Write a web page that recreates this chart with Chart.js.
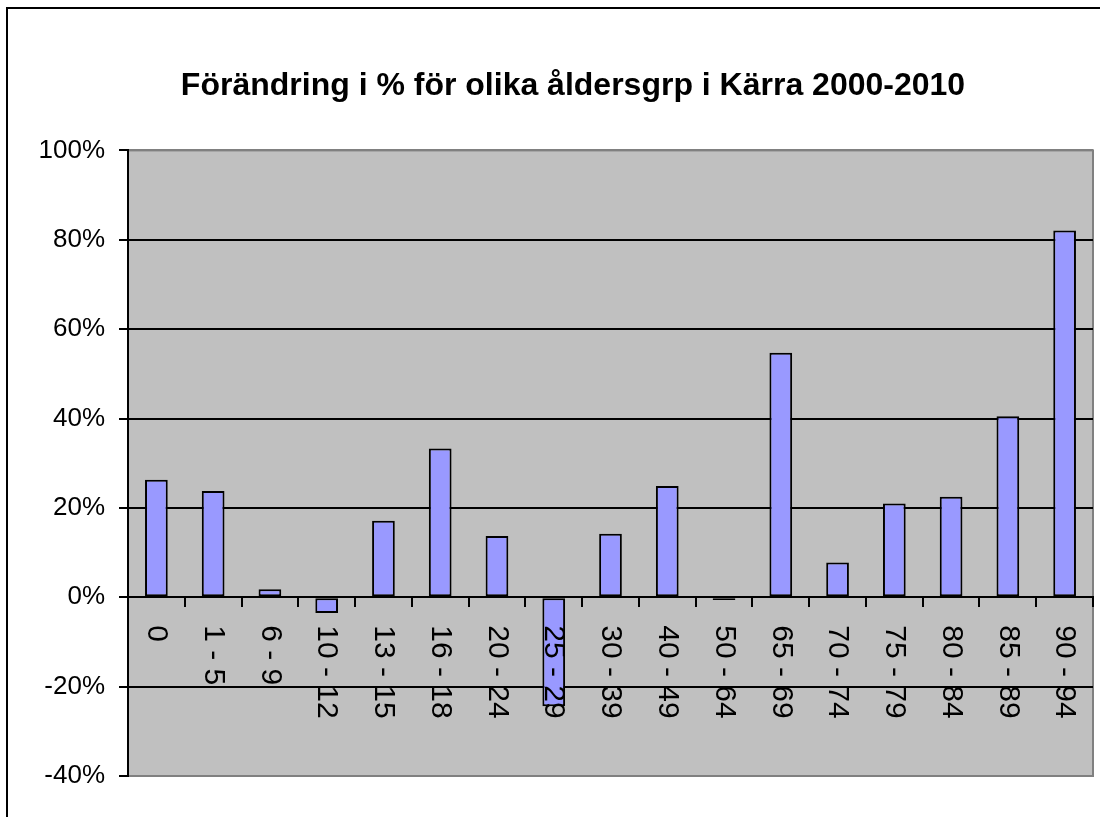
<!DOCTYPE html>
<html>
<head>
<meta charset="utf-8">
<script src="https://cdn.jsdelivr.net/npm/chart.js@4"></script>
<style>
  html, body { margin: 0; padding: 0; background: #fff; overflow: hidden; }
  #frame { position: absolute; left: 6px; top: 7px; width: 1200px; height: 1000px; border: 2.5px solid #000; }
  #wrap { position: absolute; left: 0; top: 0; width: 1100px; height: 817px; }
</style>
</head>
<body>
<div id="frame"></div>
<div id="wrap"><canvas id="chart" width="1100" height="817"></canvas></div>
<script>
// Data
const titleText = "Förändring i % för olika åldersgrp i Kärra 2000-2010";
const ageGroups = ["0", "1 - 5", "6 - 9", "10 - 12", "13 - 15", "16 - 18", "20 - 24", "25 - 29",
  "30 - 39", "40 - 49", "50 - 64", "65 - 69", "70 - 74", "75 - 79", "80 - 84", "85 - 89", "90 - 94"];
const changePct = [26.3, 23.8, 1.8, -3.5, 17.1, 33.3, 13.7, -24.4,
  14.2, 24.9, -0.6, 54.7, 7.8, 21.0, 22.5, 40.5, 82.1];
const yMin = -40, yMax = 100, yStep = 20;

const FONT = "'Liberation Sans', Arial, sans-serif";

// grå bakgrund för plotytan
const plotBackground = {
  id: "plotBackground",
  afterLayout(chart) {
    // låt y-etiketterna gå utanför axelns ruta utan att klippas
    chart.scales.y.left = 0;
  },
  beforeDraw(chart) {
    const { ctx, chartArea: a } = chart;
    ctx.save();
    ctx.fillStyle = "#C0C0C0";
    ctx.fillRect(a.left, a.top, a.right - a.left, a.bottom - a.top);
    ctx.strokeStyle = "#808080";
    ctx.lineWidth = 2;
    ctx.strokeRect(a.left, a.top, a.right - a.left, a.bottom - a.top);
    ctx.restore();
  }
};

// kategorietiketter, roterade medurs, vid nollinjen
const rotatedLabels = {
  id: "rotatedLabels",
  afterDatasetsDraw(chart) {
    const { ctx } = chart;
    const xs = chart.scales.x, ys = chart.scales.y;
    const y0 = ys.getPixelForValue(0);
    ctx.save();
    ctx.font = "30px " + FONT;
    ctx.fillStyle = "#000";
    ctx.textAlign = "left";
    ctx.textBaseline = "middle";
    ageGroups.forEach((lab, i) => {
      ctx.save();
      ctx.translate(xs.getPixelForValue(i), y0 + 28);
      ctx.rotate(Math.PI / 2);
      ctx.fillText(lab, 0, 0);
      ctx.restore();
    });
    ctx.restore();
  }
};

new Chart(document.getElementById("chart"), {
  type: "bar",
  data: {
    labels: ageGroups,
    datasets: [{
      data: changePct,
      backgroundColor: "#9999FF",
      borderColor: "#000",
      borderWidth: 2,
      borderSkipped: false,
      barPercentage: 0.4,
      categoryPercentage: 1
    }]
  },
  options: {
    responsive: false,
    animation: false,
    layout: { padding: { left: 53, right: 7, top: 0, bottom: 41 } },
    plugins: {
      legend: { display: false },
      tooltip: { enabled: false },
      title: {
        display: true,
        text: titleText,
        color: "#000",
        font: { family: FONT, size: 32, weight: "bold" },
        padding: { top: 67, bottom: 45 }
      }
    },
    scales: {
      x: {
        position: { y: 0 },
        border: { color: "#000", width: 2 },
        grid: { drawOnChartArea: false, drawTicks: true, tickLength: 9, color: "#000", lineWidth: 2 },
        ticks: { display: false }
      },
      y: {
        min: yMin,
        max: yMax,
        afterFit(scale) { scale.width = 75; },
        border: { color: "#000", width: 2 },
        grid: {
          color: (c) => (c.tick && (c.tick.value === yMin || c.tick.value === yMax)) ? "#808080" : "#000",
          lineWidth: 2,
          tickColor: "#000",
          tickLength: 9
        },
        ticks: {
          stepSize: yStep,
          padding: 14,
          color: "#000",
          font: { family: FONT, size: 26 },
          callback: (v) => v + "%"
        }
      }
    }
  },
  plugins: [plotBackground, rotatedLabels]
});
</script>
</body>
</html>
